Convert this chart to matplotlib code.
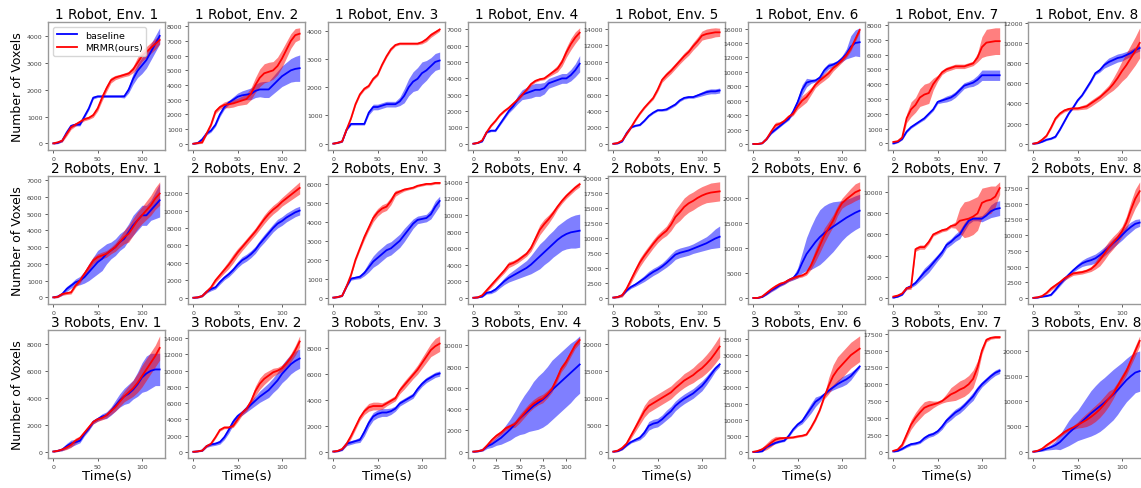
import numpy as np
import matplotlib.pyplot as plt

# sampled every 5 s
TIME = list(range(0, 125, 5))

ENVS = ["Env. 1", "Env. 2", "Env. 3", "Env. 4", "Env. 5", "Env. 6", "Env. 7", "Env. 8"]
ROBOTS = ["1 Robot", "2 Robots", "3 Robots"]

# ---------------- 1 robot ----------------
base_r1 = [
    [0, 20, 100, 400, 650, 700, 700, 1000, 1300, 1700, 1750, 1750, 1750, 1750, 1750, 1750, 1750, 2000, 2400, 2700, 2900, 3100, 3400, 3700, 4000],
    [0, 50, 300, 700, 900, 1300, 2000, 2500, 2800, 3000, 3200, 3300, 3350, 3400, 3600, 3700, 3700, 3700, 4000, 4300, 4600, 4800, 5000, 5100, 5150],
    [0, 30, 80, 500, 700, 700, 700, 700, 1100, 1300, 1300, 1350, 1400, 1400, 1400, 1500, 1700, 2000, 2200, 2300, 2500, 2600, 2750, 2900, 2950],
    [0, 50, 150, 700, 800, 800, 1200, 1600, 2000, 2300, 2700, 3000, 3100, 3200, 3300, 3300, 3400, 3700, 3800, 3900, 4000, 4000, 4200, 4500, 4900],
    [0, 50, 300, 1300, 2000, 2200, 2300, 2800, 3400, 3800, 4100, 4100, 4200, 4500, 4800, 5300, 5600, 5700, 5700, 5900, 6100, 6300, 6400, 6400, 6500],
    [0, 0, 100, 700, 1500, 2000, 2500, 3000, 3500, 4500, 5800, 7500, 8500, 8700, 8800, 9200, 10200, 10800, 11000, 11300, 11800, 12500, 13500, 14000, 14100],
    [0, 100, 300, 800, 1100, 1300, 1500, 1700, 2000, 2300, 2800, 2900, 3000, 3100, 3300, 3600, 3900, 4000, 4100, 4300, 4600, 4600, 4600, 4600, 4600],
    [0, 50, 200, 400, 500, 700, 1400, 2200, 3000, 3600, 4300, 4800, 5500, 6200, 7000, 7300, 7800, 8100, 8300, 8500, 8600, 8800, 9000, 9300, 9500],
]
base_sd_r1 = [
    [30, 30, 40, 50, 60, 50, 50, 60, 60, 50, 40, 40, 40, 40, 40, 40, 60, 120, 200, 250, 300, 300, 300, 300, 300],
    [30, 50, 80, 100, 100, 120, 150, 150, 150, 200, 250, 300, 350, 400, 450, 500, 550, 550, 600, 650, 700, 750, 800, 850, 900],
    [20, 20, 30, 40, 40, 40, 40, 40, 80, 100, 100, 100, 100, 100, 100, 150, 250, 300, 350, 400, 400, 350, 300, 300, 300],
    [30, 30, 50, 60, 60, 60, 80, 100, 120, 150, 250, 300, 350, 400, 400, 400, 350, 300, 300, 300, 300, 300, 350, 400, 500],
    [50, 50, 80, 100, 100, 100, 100, 100, 120, 120, 120, 120, 150, 150, 150, 150, 150, 150, 150, 200, 250, 300, 300, 300, 300],
    [30, 30, 60, 100, 150, 150, 150, 150, 200, 300, 500, 700, 600, 300, 200, 300, 400, 400, 300, 300, 400, 700, 1500, 1800, 2000],
    [50, 50, 60, 80, 80, 80, 80, 100, 100, 100, 120, 150, 200, 200, 200, 200, 200, 200, 250, 300, 350, 350, 350, 350, 350],
    [50, 50, 60, 80, 80, 100, 100, 100, 100, 100, 100, 100, 150, 150, 150, 200, 300, 400, 400, 400, 400, 350, 350, 300, 300],
]
ours_r1 = [
    [0, 40, 100, 350, 600, 700, 800, 900, 950, 1050, 1300, 1700, 2050, 2350, 2450, 2500, 2550, 2600, 2750, 3000, 3250, 3400, 3550, 3700, 3850],
    [0, 50, 100, 700, 1300, 2200, 2500, 2650, 2700, 2750, 2850, 2950, 3050, 3400, 4000, 4500, 4800, 4900, 5000, 5300, 5800, 6400, 7000, 7400, 7500],
    [0, 30, 80, 500, 900, 1400, 1750, 1950, 2050, 2300, 2450, 2800, 3100, 3350, 3500, 3550, 3550, 3550, 3550, 3550, 3600, 3700, 3850, 3950, 4050],
    [0, 50, 200, 700, 1100, 1400, 1750, 2000, 2200, 2450, 2700, 3000, 3300, 3650, 3850, 3950, 4000, 4200, 4400, 4600, 5000, 5600, 6100, 6500, 6800],
    [0, 100, 400, 1200, 2000, 2900, 3700, 4400, 5000, 5600, 6600, 7800, 8400, 8900, 9500, 10100, 10700, 11200, 11900, 12500, 13200, 13400, 13500, 13600, 13600],
    [0, 0, 100, 700, 1700, 2600, 2800, 3200, 3800, 4200, 5200, 6000, 6500, 7300, 8200, 8800, 9300, 9800, 10500, 11000, 11600, 12300, 13200, 14500, 15800],
    [100, 150, 400, 1700, 2300, 2600, 3100, 3300, 3400, 4000, 4400, 4800, 5000, 5100, 5200, 5200, 5200, 5300, 5400, 5800, 6500, 6800, 6850, 6900, 6900],
    [0, 100, 400, 800, 1600, 2500, 3000, 3300, 3450, 3500, 3500, 3600, 3700, 4000, 4300, 4600, 5000, 5400, 5900, 6500, 7200, 7800, 8500, 9200, 10000],
]
ours_sd_r1 = [
    [30, 30, 50, 80, 80, 60, 60, 60, 60, 80, 100, 120, 120, 100, 80, 70, 70, 80, 120, 200, 200, 200, 200, 200, 150],
    [30, 50, 80, 100, 120, 150, 150, 200, 250, 250, 250, 300, 350, 400, 500, 600, 650, 650, 600, 600, 600, 550, 500, 450, 400],
    [20, 20, 30, 40, 40, 50, 50, 50, 50, 50, 50, 50, 50, 50, 40, 40, 40, 40, 40, 40, 60, 80, 80, 70, 60],
    [30, 30, 50, 60, 60, 60, 60, 60, 60, 60, 80, 100, 100, 100, 80, 80, 80, 100, 150, 200, 250, 300, 350, 350, 300],
    [50, 80, 100, 150, 150, 150, 150, 150, 150, 200, 250, 300, 350, 350, 350, 350, 400, 400, 450, 500, 550, 600, 600, 550, 500],
    [30, 30, 60, 150, 250, 400, 300, 200, 200, 250, 400, 700, 700, 500, 400, 450, 500, 500, 400, 300, 300, 300, 300, 300, 300],
    [50, 80, 100, 300, 500, 500, 600, 700, 700, 400, 200, 150, 150, 150, 150, 150, 150, 150, 150, 300, 700, 900, 900, 900, 900],
    [50, 80, 100, 100, 150, 150, 150, 150, 150, 150, 150, 200, 250, 300, 300, 300, 350, 400, 600, 800, 1000, 1200, 1300, 1400, 1500],
]

# ---------------- 2 robots ----------------
base_r2 = [
    [0, 50, 200, 500, 700, 900, 1000, 1200, 1500, 1800, 2100, 2300, 2600, 2800, 3000, 3300, 3500, 3900, 4300, 4600, 4900, 4900, 5200, 5500, 5800],
    [0, 50, 200, 700, 1000, 1200, 1800, 2300, 2700, 3200, 3800, 4300, 4600, 5000, 5500, 6200, 6800, 7400, 8000, 8500, 8800, 9200, 9500, 9800, 10000],
    [0, 30, 100, 600, 1000, 1050, 1100, 1300, 1600, 1900, 2100, 2300, 2500, 2600, 2800, 3000, 3300, 3600, 3900, 4100, 4150, 4200, 4400, 4800, 5100],
    [0, 50, 150, 600, 700, 1000, 1500, 2000, 2400, 2700, 3000, 3300, 3600, 4000, 4500, 5000, 5500, 6000, 6500, 7000, 7400, 7700, 7900, 8000, 8100],
    [0, 100, 400, 1200, 1800, 2200, 2700, 3200, 3800, 4300, 4700, 5200, 5800, 6500, 7200, 7500, 7700, 7900, 8200, 8500, 8800, 9100, 9500, 9900, 10200],
    [0, 0, 200, 800, 1500, 2000, 2600, 3000, 3600, 4000, 5000, 7000, 8800, 10000, 11200, 12200, 13000, 13700, 14300, 14900, 15500, 16100, 16600, 17100, 17500],
    [0, 100, 300, 900, 1100, 1400, 1900, 2400, 2800, 3300, 3800, 4300, 5000, 5300, 5700, 6000, 6700, 7300, 7500, 7500, 7500, 7800, 8200, 8400, 8500],
    [0, 50, 200, 300, 500, 1300, 2200, 3000, 3700, 4400, 5000, 5500, 5800, 6000, 6300, 6800, 7400, 8000, 8700, 9300, 10000, 10700, 11300, 11800, 12000],
]
base_sd_r2 = [
    [50, 50, 80, 150, 150, 200, 250, 350, 500, 600, 700, 700, 600, 500, 500, 500, 500, 500, 600, 600, 600, 600, 600, 800, 1000],
    [50, 80, 100, 150, 200, 200, 250, 250, 300, 300, 350, 400, 400, 400, 400, 400, 450, 450, 450, 500, 500, 500, 500, 500, 500],
    [30, 30, 40, 60, 80, 80, 100, 150, 250, 300, 350, 350, 350, 350, 350, 350, 350, 300, 250, 200, 200, 200, 250, 300, 250],
    [50, 50, 80, 150, 200, 250, 300, 400, 500, 600, 700, 800, 900, 1100, 1300, 1500, 1500, 1600, 1600, 1700, 1700, 1800, 1900, 2000, 2000],
    [100, 100, 150, 200, 250, 300, 400, 500, 600, 600, 600, 600, 700, 800, 800, 800, 800, 800, 800, 900, 1000, 1100, 1300, 1600, 1800],
    [50, 50, 100, 200, 300, 300, 300, 300, 300, 400, 1000, 2000, 3300, 4300, 5000, 5500, 5500, 5300, 5000, 4500, 4000, 3700, 3500, 3400, 3300],
    [50, 50, 80, 100, 150, 200, 300, 400, 400, 350, 300, 300, 300, 300, 350, 400, 400, 300, 200, 200, 300, 400, 600, 700, 700],
    [50, 50, 80, 100, 150, 200, 300, 300, 300, 300, 400, 500, 600, 700, 700, 700, 700, 700, 700, 700, 800, 800, 800, 700, 600],
]
ours_r2 = [
    [0, 30, 200, 250, 300, 700, 1000, 1400, 1800, 2200, 2400, 2500, 2600, 2800, 3000, 3300, 3600, 3800, 4200, 4600, 4900, 5200, 5500, 5900, 6200],
    [0, 50, 200, 700, 1200, 2000, 2600, 3200, 3800, 4500, 5200, 5800, 6400, 7000, 7600, 8300, 9000, 9600, 10100, 10500, 11000, 11400, 11800, 12200, 12600],
    [0, 30, 100, 600, 1200, 2000, 2600, 3200, 3700, 4200, 4500, 4700, 4800, 5100, 5500, 5600, 5700, 5750, 5800, 5900, 5950, 6000, 6000, 6050, 6050],
    [0, 50, 300, 900, 1500, 2100, 2700, 3300, 4000, 4200, 4500, 4900, 5300, 6000, 7100, 8200, 8900, 9500, 10200, 11000, 11700, 12300, 12800, 13300, 13700],
    [0, 100, 400, 1500, 3000, 4500, 5900, 7000, 8000, 9000, 9900, 10600, 11200, 12200, 13500, 14300, 15200, 15800, 16200, 16700, 17100, 17400, 17600, 17700, 17800],
    [0, 0, 300, 1000, 1700, 2300, 2800, 3100, 3600, 4000, 4300, 4500, 5000, 6500, 8500, 10500, 12500, 14000, 15500, 17500, 19000, 19800, 20500, 21200, 21600],
    [100, 200, 400, 900, 1000, 4600, 4800, 4800, 5300, 6000, 6200, 6400, 6500, 6800, 6900, 7300, 7400, 7500, 7700, 8000, 9000, 9200, 9300, 9600, 10400],
    [0, 100, 300, 800, 1500, 2000, 2500, 3100, 3500, 3900, 4000, 4100, 4300, 4600, 5200, 6000, 7000, 8000, 8800, 9600, 10600, 12000, 14000, 15800, 17000],
]
ours_sd_r2 = [
    [50, 50, 80, 80, 100, 100, 150, 150, 200, 200, 200, 200, 200, 200, 250, 300, 400, 500, 500, 500, 500, 550, 600, 650, 700],
    [50, 80, 100, 150, 200, 250, 300, 350, 450, 500, 450, 400, 400, 400, 400, 450, 500, 500, 500, 500, 500, 550, 600, 650, 700],
    [30, 30, 40, 60, 80, 100, 100, 150, 150, 200, 200, 200, 200, 200, 150, 100, 80, 60, 60, 60, 60, 60, 60, 60, 60],
    [50, 80, 100, 200, 250, 250, 250, 300, 350, 300, 300, 300, 300, 400, 500, 600, 600, 500, 400, 300, 300, 300, 300, 300, 300],
    [100, 150, 300, 400, 500, 600, 700, 700, 700, 700, 700, 700, 800, 1000, 1200, 1400, 1500, 1500, 1500, 1500, 1500, 1500, 1600, 1600, 1600],
    [50, 50, 150, 300, 400, 400, 400, 300, 300, 300, 300, 300, 400, 800, 1200, 1400, 1500, 1300, 1200, 1000, 1000, 1200, 1500, 1700, 1700],
    [100, 100, 100, 150, 200, 200, 200, 200, 200, 150, 150, 150, 150, 150, 300, 1200, 1700, 1700, 1700, 1600, 1400, 1300, 1300, 1000, 600],
    [50, 100, 150, 200, 300, 300, 300, 300, 300, 300, 300, 300, 300, 400, 600, 900, 1000, 1000, 1000, 900, 800, 1000, 1300, 1500, 1500],
]

# ---------------- 3 robots ----------------
# Env. 4 stops at 115 s
base_r3 = [
    [0, 50, 150, 400, 600, 700, 800, 1300, 1700, 2200, 2400, 2600, 2700, 3000, 3400, 3800, 4100, 4300, 4600, 5000, 5500, 5800, 6000, 6100, 6100],
    [0, 50, 150, 700, 900, 1000, 1200, 1800, 2700, 3700, 4400, 4800, 5300, 5800, 6300, 6800, 7200, 7600, 8200, 8800, 9600, 10200, 10800, 11200, 11500],
    [0, 30, 150, 600, 700, 800, 900, 1500, 2200, 2700, 2900, 3000, 3000, 3100, 3300, 3700, 3900, 4100, 4300, 4800, 5200, 5500, 5700, 5900, 6000],
    [0, 30, 150, 500, 700, 1000, 1300, 1700, 2100, 2600, 3100, 3500, 3900, 4300, 4600, 4900, 5300, 5800, 6200, 6600, 7000, 7400, 7800, 8200],
    [0, 100, 500, 1200, 1800, 2200, 2600, 3500, 4800, 5200, 5400, 6000, 6800, 7500, 8500, 9200, 9800, 10300, 10800, 11500, 12200, 13200, 14300, 15400, 16200],
    [0, 0, 200, 1500, 2200, 2800, 3200, 3500, 5000, 7000, 8500, 9500, 11500, 13500, 15500, 16500, 17800, 19000, 20000, 21000, 21800, 22500, 23500, 25000, 26500],
    [0, 100, 400, 800, 1100, 1200, 1400, 2000, 2400, 2600, 3000, 3700, 4600, 5200, 5800, 6200, 6800, 7500, 8200, 9200, 10000, 10600, 11200, 11700, 12000],
    [0, 100, 300, 600, 900, 1300, 1900, 2800, 3700, 4500, 5200, 6000, 6800, 7600, 8300, 9000, 9700, 10500, 11300, 12200, 13200, 14200, 15000, 15700, 16000],
]
base_sd_r3 = [
    [50, 50, 100, 200, 250, 200, 150, 150, 150, 150, 150, 200, 250, 300, 400, 500, 600, 700, 700, 900, 1100, 1300, 1300, 1200, 1200],
    [50, 50, 100, 150, 200, 200, 250, 300, 400, 400, 300, 300, 400, 500, 600, 700, 800, 900, 900, 1000, 1100, 1200, 1200, 1200, 1200],
    [50, 50, 80, 150, 150, 150, 200, 300, 300, 300, 300, 300, 300, 250, 200, 200, 200, 200, 200, 200, 200, 200, 200, 200, 200],
    [50, 50, 100, 200, 300, 400, 600, 800, 1000, 1200, 1500, 1800, 2000, 2300, 2500, 2600, 2700, 2800, 2800, 2800, 2800, 2800, 2700, 2700],
    [100, 100, 200, 200, 200, 300, 400, 600, 800, 800, 800, 800, 900, 900, 900, 900, 900, 900, 900, 900, 900, 800, 700, 500, 400],
    [100, 100, 200, 300, 300, 300, 300, 300, 400, 500, 600, 800, 1200, 1500, 1500, 1000, 500, 500, 800, 1200, 1500, 1500, 1200, 800, 500],
    [100, 100, 150, 200, 200, 200, 200, 300, 300, 300, 300, 400, 400, 500, 500, 500, 500, 500, 600, 500, 400, 400, 400, 400, 400],
    [100, 100, 200, 300, 500, 800, 1500, 2000, 2500, 2800, 3000, 3500, 4000, 4500, 4800, 5000, 5000, 5000, 5000, 4800, 4500, 4300, 4200, 4000, 4000],
]
ours_r3 = [
    [0, 50, 150, 300, 500, 800, 1000, 1400, 1800, 2200, 2400, 2500, 2700, 3000, 3300, 3700, 4100, 4400, 4700, 5100, 5600, 6100, 6600, 7100, 7700],
    [0, 50, 150, 700, 1000, 1800, 2700, 3000, 3000, 3200, 4000, 4800, 5300, 6200, 7500, 8400, 9000, 9400, 9800, 10000, 10300, 10900, 11600, 12500, 13600],
    [0, 50, 200, 600, 1200, 1900, 2600, 3100, 3400, 3500, 3500, 3500, 3700, 3900, 4100, 4700, 5100, 5500, 5900, 6300, 6800, 7300, 7800, 8100, 8300],
    [0, 50, 150, 600, 1100, 1500, 1800, 2200, 2400, 2600, 3100, 3600, 4100, 4500, 4800, 5000, 5400, 5900, 6800, 7800, 8400, 9200, 10000, 10500],
    [0, 200, 700, 1500, 3000, 4500, 6000, 7500, 8500, 9000, 9500, 10000, 10500, 11000, 11800, 12500, 13200, 13700, 14200, 14900, 15500, 16300, 17200, 18300, 19500],
    [0, 300, 800, 1700, 2800, 3800, 4200, 4300, 4400, 4500, 4800, 5000, 5400, 7500, 10000, 13000, 17000, 20500, 23500, 25500, 27000, 28500, 30000, 31000, 32000],
    [100, 300, 1000, 2500, 4000, 5000, 5800, 6500, 6800, 7000, 7200, 7500, 8000, 8500, 8800, 9200, 9500, 10000, 10800, 12500, 15000, 16600, 16900, 17000, 17000],
    [0, 200, 600, 1300, 1900, 2500, 3200, 3900, 4400, 4800, 5300, 5800, 6300, 6900, 7600, 8400, 9400, 10500, 11500, 13000, 14500, 16000, 18000, 20000, 22000],
]
ours_sd_r3 = [
    [50, 50, 80, 150, 200, 200, 150, 150, 150, 150, 150, 150, 200, 250, 300, 350, 400, 500, 600, 700, 800, 800, 800, 800, 900],
    [50, 50, 100, 150, 150, 150, 150, 150, 150, 200, 300, 300, 300, 400, 600, 700, 700, 600, 500, 400, 400, 400, 500, 600, 700],
    [50, 50, 80, 150, 200, 200, 200, 250, 300, 300, 300, 250, 200, 200, 200, 250, 300, 300, 300, 350, 400, 450, 500, 600, 600],
    [50, 50, 80, 150, 200, 200, 200, 200, 200, 300, 400, 400, 400, 400, 400, 400, 350, 300, 300, 300, 300, 300, 300, 300],
    [100, 200, 300, 400, 500, 700, 900, 1100, 1200, 1200, 1200, 1200, 1200, 1200, 1200, 1200, 1300, 1300, 1400, 1500, 1600, 1700, 1800, 1900, 2000],
    [100, 300, 600, 1000, 1200, 1000, 600, 300, 300, 300, 300, 300, 300, 400, 500, 500, 600, 2500, 3500, 4000, 4000, 4000, 4000, 4000, 4000],
    [100, 200, 300, 500, 700, 800, 900, 900, 800, 500, 300, 300, 600, 1000, 1200, 1300, 1300, 1300, 1300, 1000, 500, 300, 200, 200, 200],
    [100, 150, 200, 300, 300, 300, 300, 300, 300, 400, 600, 1000, 1300, 1500, 1600, 1600, 1600, 1500, 1000, 800, 800, 800, 900, 1000, 1000],
]

BASE = [base_r1, base_r2, base_r3]
BASE_SD = [base_sd_r1, base_sd_r2, base_sd_r3]
OURS = [ours_r1, ours_r2, ours_r3]
OURS_SD = [ours_sd_r1, ours_sd_r2, ours_sd_r3]

W, H = 1141, 489
fig = plt.figure(figsize=(W / 100, H / 100), dpi=100)

ax_w, ax_h = 117, 128
lefts = [48 + 140 * j for j in range(8)]
tops = [23, 177, 331]

for i in range(3):
    for j in range(8):
        ax = fig.add_axes([lefts[j] / W, 1 - (tops[i] + ax_h) / H, ax_w / W, ax_h / H])
        b = np.array(BASE[i][j]); bs = np.array(BASE_SD[i][j])
        o = np.array(OURS[i][j]); os_ = np.array(OURS_SD[i][j])
        t = np.array(TIME[:len(b)])
        ax.plot(t, b, color='blue', lw=1.3, label='baseline')
        ax.fill_between(t, b - bs, b + bs, color='blue', alpha=0.5, lw=0)
        ax.plot(t, o, color='red', lw=1.3, label='MRMR(ours)')
        ax.fill_between(t, o - os_, o + os_, color='red', alpha=0.5, lw=0)

        ax.set_title(f"{ROBOTS[i]}, {ENVS[j]}", fontsize=9.8, pad=3)
        if len(t) < len(TIME):
            ax.set_xticks([0, 25, 50, 75, 100])
        else:
            ax.set_xticks([0, 50, 100])
        ax.tick_params(labelsize=4.5, length=2.5, width=0.6, pad=1.5, colors='#444444')
        for sp in ax.spines.values():
            sp.set_color('#999999')
            sp.set_linewidth(1.0)
        if j == 0:
            ax.set_ylabel("Number of Voxels", fontsize=9, labelpad=2)
        if i == 2:
            ax.set_xlabel("Time(s)", fontsize=9.5, labelpad=0)
        if i == 0 and j == 0:
            ax.legend(loc='upper left', fontsize=6.8, handlelength=2.2, borderpad=0.4,
                      labelspacing=0.4)

fig.savefig("out.png", dpi=100)
